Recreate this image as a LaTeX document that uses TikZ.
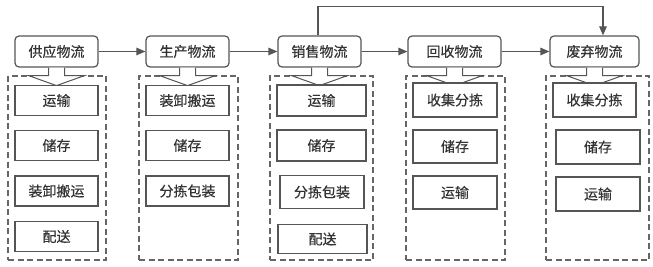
\documentclass[tikz,border=0pt]{standalone}
\usepackage{fontspec}
\setmainfont{Noto Sans CJK SC}
\newfontfamily\lblfont{Noto Sans CJK SC}[FakeBold=0.4]
\usetikzlibrary{arrows.meta,calc}
\definecolor{ln}{HTML}{555555}
\definecolor{dl}{HTML}{666666}
\definecolor{tx}{HTML}{333333}
\begin{document}
\begin{tikzpicture}[x=1pt,y=-1pt,
 lbl/.style={text=tx,font=\lblfont\fontsize{14}{16}\selectfont},
 hdr/.style={lbl,draw=ln,line width=1.2pt,rounded corners=4pt,fill=white,minimum height=31pt,inner sep=0pt},
 item/.style={lbl,draw=ln,line width=1.2pt,fill=white,inner sep=0pt},
 cont/.style={draw=dl,dash pattern=on 6pt off 3.5pt,line width=1.2pt,inner sep=0pt},
 flow/.style={draw=ln,line width=1.2pt,-{Triangle[length=9pt,width=7.5pt]}},
 barrow/.style={draw=ln,line width=1pt,fill=white,line join=miter}
]
\useasboundingbox (0,0) rectangle (653,267);
% containers
\node[cont,minimum width=98pt,minimum height=184pt] (c1) at (57,168) {};
\node[cont,minimum width=99pt,minimum height=184pt] (c2) at (188.5,168) {};
\node[cont,minimum width=103pt,minimum height=184pt] (c3) at (321.5,168) {};
\node[cont,minimum width=99pt,minimum height=184pt] (c4) at (455.5,168) {};
\node[cont,minimum width=103pt,minimum height=184pt] (c5) at (597.5,168) {};
% headers
\node[hdr,minimum width=83pt] (h1) at (56.5,51.5) {供应物流};
\node[hdr,minimum width=83pt] (h2) at (187.5,51.5) {生产物流};
\node[hdr,minimum width=83pt] (h3) at (319.5,51.5) {销售物流};
\node[hdr,minimum width=93pt] (h4) at (454.5,51.5) {回收物流};
\node[hdr,minimum width=89pt] (h5) at (594.5,51.5) {废弃物流};
% block arrows
\foreach \h in {h1,h2,h3,h4,h5}{
  \draw[barrow] (\h.south) ++(-8,0) -- ++(0,8) -- ++(-20,0) -- ++(28,10) -- ++(28,-10) -- ++(-20,0) -- ++(0,-8);
}
% items column 1
\node[item,minimum width=83pt,minimum height=30pt] (a1) at (56.5,100.5) {运输};
\node[item,minimum width=83pt,minimum height=30pt] (a2) at (56.5,145.5) {储存};
\node[item,minimum width=83pt,minimum height=30pt] (a3) at (56.5,191) {装卸搬运};
\node[item,minimum width=83pt,minimum height=30pt] (a4) at (56.5,236.5) {配送};
% column 2
\node[item,minimum width=83pt,minimum height=30pt] (b1) at (187.5,100.5) {装卸搬运};
\node[item,minimum width=83pt,minimum height=30pt] (b2) at (187.5,145.5) {储存};
\node[item,minimum width=83pt,minimum height=30pt] (b3) at (187.5,191) {分拣包装};
% column 3
\node[item,minimum width=89pt,minimum height=31pt] (d1) at (321.5,100.5) {运输};
\node[item,minimum width=89pt,minimum height=31pt] (d2) at (321.5,145.5) {储存};
\node[item,minimum width=84pt,minimum height=33pt] (d3) at (322,192) {分拣包装};
\node[item,minimum width=89pt,minimum height=29pt] (d4) at (322.5,239) {配送};
% column 4
\node[item,minimum width=84pt,minimum height=34pt] (e1) at (455,100) {收集分拣};
\node[item,minimum width=84pt,minimum height=33pt] (e2) at (455,146.5) {储存};
\node[item,minimum width=84pt,minimum height=33pt] (e3) at (455,192.5) {运输};
% column 5
\node[item,minimum width=83pt,minimum height=34pt] (f1) at (594.5,100) {收集分拣};
\node[item,minimum width=84pt,minimum height=34pt] (f2) at (598,147) {储存};
\node[item,minimum width=84pt,minimum height=34pt] (f3) at (598,194) {运输};
% flows
\draw[flow] (h1) -- (h2);
\draw[flow] (h2) -- (h3);
\draw[flow] (h3) -- (h4);
\draw[flow] (h4) -- (h5);
\coordinate (t5) at ($(h5.north)+(8.5,0)$);
\draw[flow] ($(h3.north)+(-1.5,0)$) -- ++(0,-29) -| (t5);
\end{tikzpicture}
\end{document}
